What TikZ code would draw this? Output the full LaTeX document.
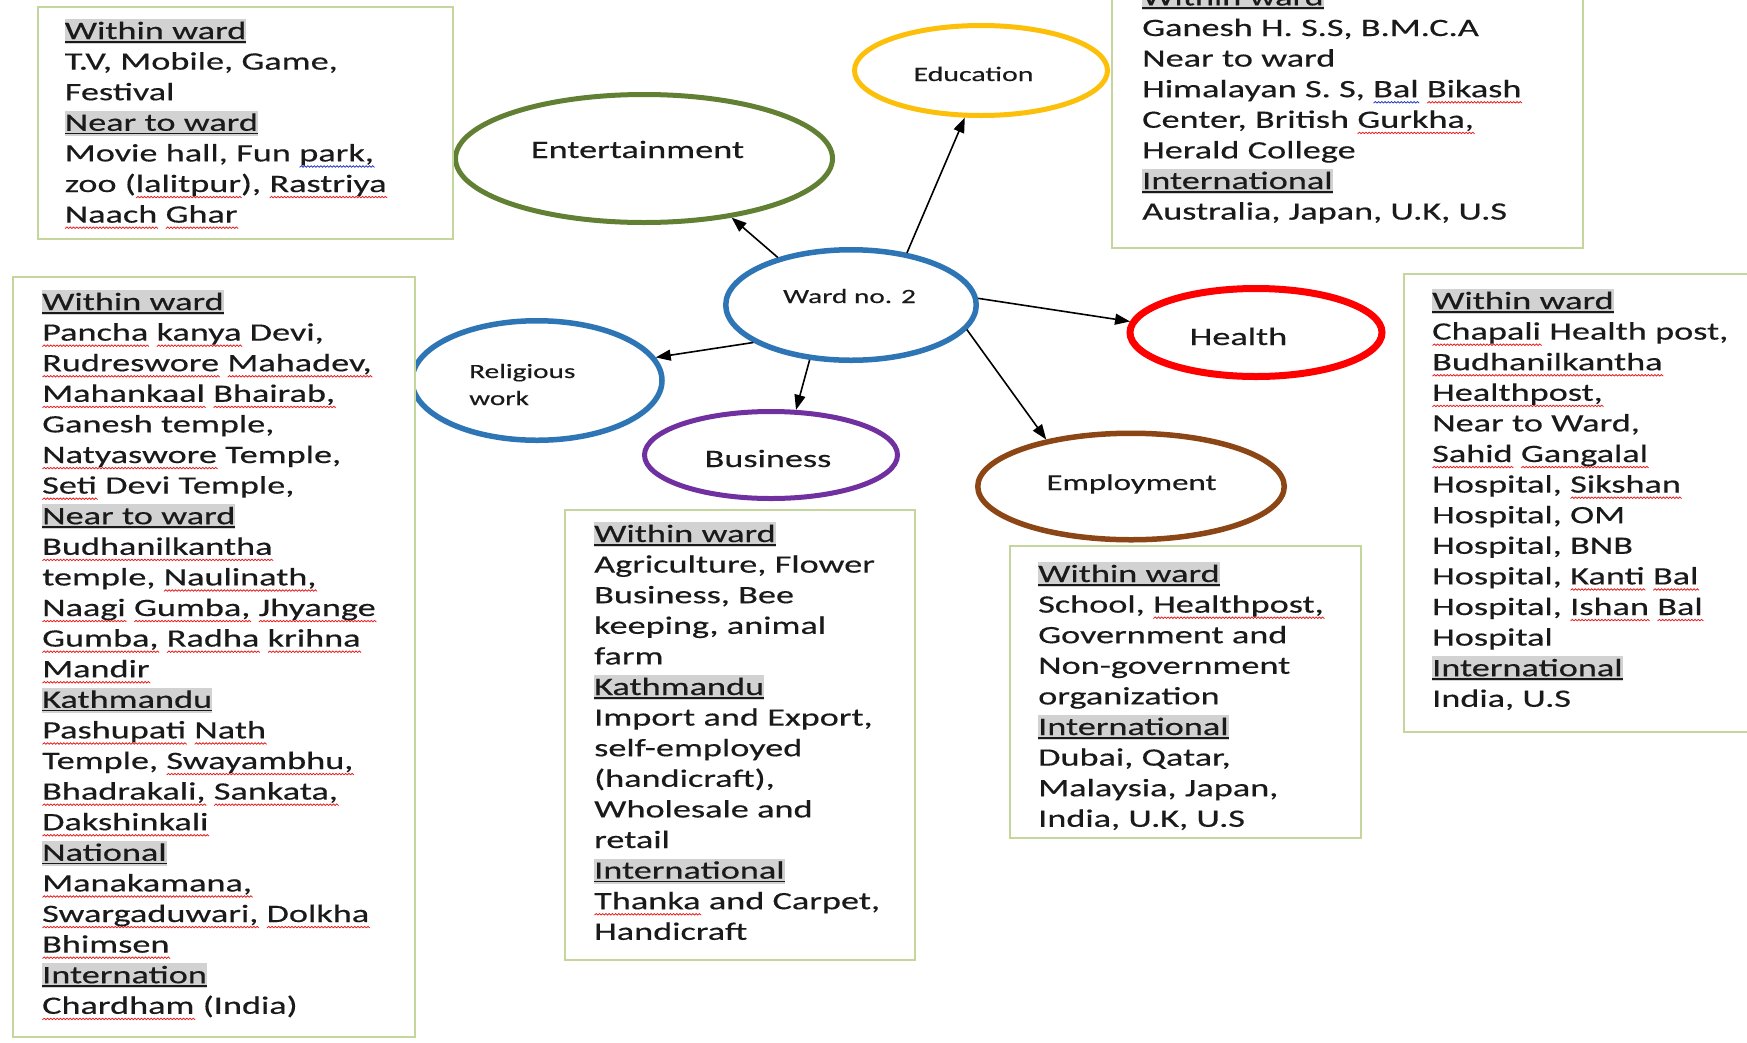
\documentclass[tikz,border=0pt]{standalone}
\usepackage{fontspec}
\setmainfont{Carlito}[FakeStretch=1.45,FakeBold=0.4]
\usetikzlibrary{arrows.meta,shapes.geometric}

\definecolor{txt}{RGB}{26,26,26}
\definecolor{boxgreen}{RGB}{196,214,155}
\definecolor{hlgray}{RGB}{210,210,210}
\definecolor{spellred}{RGB}{235,30,30}
\definecolor{spellblue}{RGB}{40,60,200}
\definecolor{entgreen}{RGB}{98,128,52}
\definecolor{edugold}{RGB}{252,192,10}
\definecolor{wardblue}{RGB}{46,117,182}
\definecolor{buspurple}{RGB}{112,48,160}
\definecolor{healthred}{RGB}{255,0,0}
\definecolor{empbrown}{RGB}{140,70,22}

\newsavebox{\wordbox}
% underlined heading on a grey highlight
\newcommand{\hd}[1]{\leavevmode{\setlength{\fboxsep}{0pt}\colorbox{hlgray}{\rule[-5pt]{0pt}{25pt}%
  \sbox{\wordbox}{#1}\rlap{\rule[-3.5pt]{\wd\wordbox}{1.5pt}}\usebox{\wordbox}}}}
% one tooth of a wavy spelling mark
\newcommand{\zig}{\hbox{\rotatebox[origin=c]{40}{\rule{2.6pt}{0.8pt}}\kern-0.9pt%
  \rotatebox[origin=c]{-40}{\rule{2.6pt}{0.8pt}}\kern-0.9pt}}
\newcommand{\wavemark}[2]{\leavevmode\sbox{\wordbox}{#2}\rlap{\raisebox{-5.5pt}[0pt][0pt]{\color{#1}%
  \hbox to \wd\wordbox{\xleaders\zig\hfil}}}\usebox{\wordbox}}
\newcommand{\sq}[1]{\wavemark{spellred}{#1}}
\newcommand{\sqb}[1]{\wavemark{spellblue}{#1}}

\tikzset{
  infobox/.style={draw=boxgreen, line width=2pt, fill=white},
  boxtxt/.style={anchor=base west, inner sep=0pt, text width=420pt, align=left,
    font=\fontsize{25}{30.6}\selectfont, text=txt},
  ell/.style={ellipse, draw=#1, inner sep=0pt, line width=5pt},
  lbl/.style={anchor=base, inner sep=0pt, text=txt},
  link/.style={draw=black, line width=1.6pt, -{Triangle[length=15pt,width=11pt]}}
}

\begin{document}
\begin{tikzpicture}[x=1pt,y=-1pt]
\useasboundingbox (0,0) rectangle (1747,1042);
\clip (0,0) rectangle (1747,1042);
\fill[white] (0,0) rectangle (1747,1042);

% theme ellipses
\node[ell=wardblue, line width=5.5pt, minimum width=250pt, minimum height=119.5pt] (rel) at (537,380.5) {};
\node[ell=entgreen, minimum width=377pt, minimum height=128pt] (ent) at (644,158.5) {};
\node[ell=edugold, minimum width=253pt, minimum height=90pt] (edu) at (981,70.5) {};
\node[ell=wardblue, line width=5.5pt, minimum width=250.5pt, minimum height=110.5pt] (ward) at (851,305) {};
\node[ell=buspurple, minimum width=253pt, minimum height=87pt] (bus) at (771,455) {};
\node[ell=healthred, line width=7pt, minimum width=252pt, minimum height=88pt] (hea) at (1256,332.5) {};
\node[ell=empbrown, line width=5.5pt, minimum width=306.5pt, minimum height=106.5pt] (emp) at (1131,486.5) {};

% ellipse labels
\node[lbl, font=\fontsize{25}{30}\selectfont] (entl) at (637.5,158) {Entertainment};
\node[lbl, font=\fontsize{20.6}{26}\selectfont] (edul) at (973.5,81) {Education};
\node[lbl, font=\fontsize{20.2}{26}\selectfont] (wardl) at (849.5,303) {Ward no. 2};
\node[anchor=base west, inner sep=0pt, text width=150pt, align=left, text=txt,
      font=\fontsize{20.2}{27}\selectfont] (rell) at (469,378) {Religious\\work};
\node[lbl, font=\fontsize{25}{30}\selectfont] (busl) at (768,467) {Business};
\node[lbl, font=\fontsize{25}{30}\selectfont] (heal) at (1238.5,345) {Health};
\node[lbl, font=\fontsize{22.7}{28}\selectfont] (empl) at (1131.5,490) {Employment};

% connectors from the ward to each theme
\draw[link] (ward.147.9) -- (ent.-34.2);
\draw[link] (ward.43.5) -- (edu.251.4);
\draw[link] (ward.3.1) -- (hea.175.8);
\draw[link] (ward.-12.5) -- (emp.151.8);
\draw[link] (ward.201.7) -- (rel.11.9);
\draw[link] (ward.233) -- (bus.61.6);

% detail boxes
\path[infobox] (38,7) rectangle (453,239);
\path[infobox] (1112,-10) rectangle (1583,248);
\path[infobox] (13,277) rectangle (415,1037);
\path[infobox] (565,510) rectangle (915,960);
\path[infobox] (1010,546) rectangle (1361,838);
\path[infobox] (1404,274) rectangle (1760,732);

\node[boxtxt] (enttxt) at (64.6,39) {\hd{Within ward}\\
T.V, Mobile, Game,\\
Festival\\
\hd{Near to ward}\\
Movie hall, Fun \sqb{park,}\\
zoo (\sq{lalitpur}), \sq{Rastriya}\\
\sq{Naach} \sq{Ghar}};

\node[boxtxt] (edutxt) at (1142,5.4) {\hd{Within ward}\\
Ganesh H. S.S, B.M.C.A\\
Near to ward\\
Himalayan S. S, \sqb{Bal} \sq{Bikash}\\
Center, British \sq{Gurkha,}\\
Herald College\\
\hd{International}\\
Australia, Japan, U.K, U.S};

\node[boxtxt] (reltxt) at (42,310) {\hd{Within ward}\\
\sq{Pancha} \sq{kanya} Devi,\\
\sq{Rudreswore} \sq{Mahadev,}\\
\sq{Mahankaal} \sq{Bhairab,}\\
Ganesh temple,\\
\sq{Natyaswore} Temple,\\
\sq{Seti} Devi Temple,\\
\hd{Near to ward}\\
\sq{Budhanilkantha}\\
temple, \sq{Naulinath,}\\
\sq{Naagi} \sq{Gumba,} \sq{Jhyange}\\
\sq{Gumba,} \sq{Radha} \sq{krihna}\\
\sq{Mandir}\\
\hd{Kathmandu}\\
\sq{Pashupati} \sq{Nath}\\
Temple, \sq{Swayambhu,}\\
\sq{Bhadrakali,} \sq{Sankata,}\\
\sq{Dakshinkali}\\
\hd{National}\\
\sq{Manakamana,}\\
\sq{Swargaduwari,} \sq{Dolkha}\\
\sq{Bhimsen}\\
\hd{Internation}\\
\sq{Chardham} (India)};

\node[boxtxt] (bustxt) at (594,542) {\hd{Within ward}\\
Agriculture, Flower\\
Business, Bee\\
keeping, animal\\
farm\\
\hd{Kathmandu}\\
Import and Export,\\
self-employed\\
(handicraft),\\
Wholesale and\\
retail\\
\hd{International}\\
\sq{Thanka} and Carpet,\\
Handicraft};

\node[boxtxt] (emptxt) at (1038,582) {\hd{Within ward}\\
School, \sq{Healthpost,}\\
Government and\\
Non-government\\
organization\\
\hd{International}\\
Dubai, Qatar,\\
Malaysia, Japan,\\
India, U.K, U.S};

\node[boxtxt] (heatxt) at (1432,309) {\hd{Within ward}\\
\sq{Chapali} Health post,\\
\sq{Budhanilkantha}\\
\sq{Healthpost,}\\
Near to Ward,\\
\sq{Sahid} \sq{Gangalal}\\
Hospital, \sq{Sikshan}\\
Hospital, OM\\
Hospital, BNB\\
Hospital, \sq{Kanti} \sq{Bal}\\
Hospital, \sq{Ishan} \sq{Bal}\\
Hospital\\
\hd{International}\\
India, U.S};
\end{tikzpicture}
\end{document}
